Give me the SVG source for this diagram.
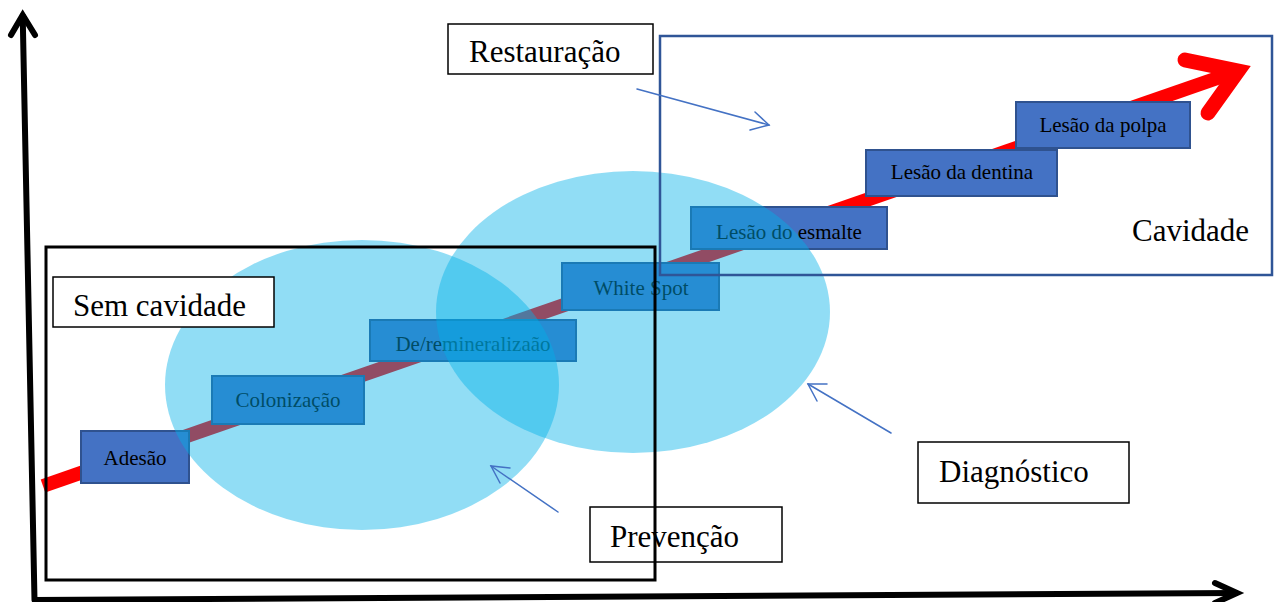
<svg xmlns="http://www.w3.org/2000/svg" width="1274" height="602" viewBox="0 0 1274 602">
<style>
.step rect{fill:#4472C4;stroke:#2F528F;stroke-width:2}
.step text{font-family:"Liberation Serif","Times New Roman",serif;font-size:21px;fill:#000;text-anchor:middle}
.lbl rect{fill:#fff;stroke:#000;stroke-width:1.5}
.big{font-family:"Liberation Serif","Times New Roman",serif;font-size:31px;fill:#000}
.ann{fill:none;stroke:#4472C4;stroke-width:1.5;stroke-linecap:round}
.ell{fill:#00B0E8;fill-opacity:0.43}
</style>
<rect width="1274" height="602" fill="#fff"/>
<g id="axes" fill="none" stroke="#000" stroke-width="6" stroke-linecap="round" stroke-linejoin="miter">
<line x1="34.5" y1="600" x2="22.7" y2="16"/>
<polyline points="11,35 22.7,15 35,35"/>
<line x1="34" y1="600" x2="1236" y2="593" stroke-linecap="butt"/>
<polyline points="1215,583 1237,593 1215,603"/>
</g>
<g id="progress-arrow" fill="none" stroke="#FF0000">
<line x1="43" y1="486" x2="1232" y2="73" stroke-width="14"/>
<polyline points="1185,60 1238,71 1208,113" stroke-width="15" stroke-linecap="round" stroke-linejoin="miter"/>
</g>
<g id="adesao" class="step"><rect x="81" y="431" width="108" height="52"/><text x="135" y="465">Adesão</text></g>
<g id="colonizacao" class="step"><rect x="212" y="376" width="152" height="48"/><text x="288" y="407">Colonização</text></g>
<g id="remineralizacao" class="step"><rect x="370" y="320" width="206" height="41"/><text x="473" y="351">De/remineralizaão</text></g>
<g id="white-spot" class="step"><rect x="562" y="263" width="157" height="47"/><text x="641" y="295">White Spot</text></g>
<g id="lesao-esmalte" class="step"><rect x="691" y="207" width="196" height="42"/><text x="789" y="239">Lesão do esmalte</text></g>
<g id="lesao-dentina" class="step"><rect x="866" y="150" width="191" height="46"/><text x="962" y="179">Lesão da dentina</text></g>
<g id="lesao-polpa" class="step"><rect x="1016" y="102" width="174" height="46"/><text x="1103" y="132">Lesão da polpa</text></g>
<g id="zone-prevencao"><ellipse class="ell" cx="362" cy="385" rx="197" ry="145"/></g>
<g id="zone-diagnostico"><ellipse class="ell" cx="633" cy="312" rx="197" ry="141"/></g>
<g id="cavidade"><rect x="660" y="36" width="612" height="239" fill="none" stroke="#2F5597" stroke-width="2.5"/><text class="big" x="1132" y="241">Cavidade</text></g>
<g id="prevencao" class="lbl"><rect x="590" y="507" width="192" height="55"/><text class="big" x="610" y="547">Prevenção</text></g>
<g id="sem-cavidade"><rect x="46" y="247" width="609" height="333" fill="none" stroke="#000" stroke-width="3"/></g>
<g id="sem-cavidade-label" class="lbl"><rect x="53" y="277" width="221" height="50"/><text class="big" x="73" y="316">Sem cavidade</text></g>
<g id="restauracao" class="lbl"><rect x="448" y="24" width="205" height="50"/><text class="big" x="469" y="62">Restauração</text></g>
<g id="diagnostico" class="lbl"><rect x="918" y="442" width="211" height="61"/><text class="big" x="939" y="482">Diagnóstico</text></g>
<g id="connectors">
<g class="ann" stroke="#2E75B6"><line x1="637" y1="89" x2="769" y2="125"/><polyline points="755,112 769,125 750,130"/></g>
<g class="ann"><line x1="891" y1="433" x2="808" y2="384"/><polyline points="827,384 808,384 817,401"/></g>
<g class="ann"><line x1="558" y1="512" x2="491" y2="466"/><polyline points="510,468 491,466 500,483"/></g>
</g>
</svg>
